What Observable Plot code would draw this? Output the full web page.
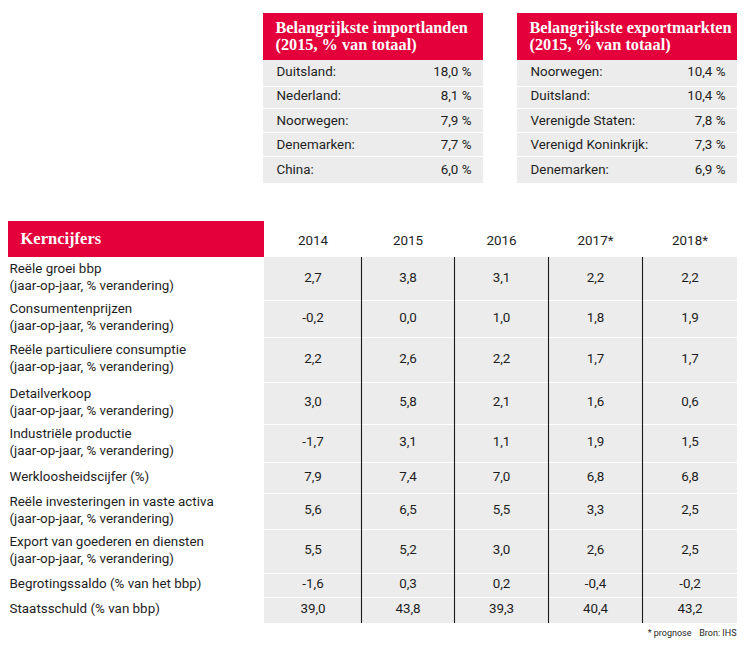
<!DOCTYPE html>
<html><head><meta charset="utf-8">
<script src="https://cdn.jsdelivr.net/npm/d3@7"></script>
<script src="https://cdn.jsdelivr.net/npm/@observablehq/plot@0.6"></script>
<style>
html,body{margin:0;padding:0;background:#fff;}
#chart svg{display:block;}
</style></head><body><div id="chart"></div>
<script>
// ---------- data ----------
const importTitle = ["Belangrijkste importlanden", "(2015, % van totaal)"];
const importCountries = ["Duitsland:", "Nederland:", "Noorwegen:", "Denemarken:", "China:"];
const importShares = [18.0, 8.1, 7.9, 7.7, 6.0];

const exportTitle = ["Belangrijkste exportmarkten", "(2015, % van totaal)"];
const exportCountries = ["Noorwegen:", "Duitsland:", "Verenigde Staten:", "Verenigd Koninkrijk:", "Denemarken:"];
const exportShares = [10.4, 10.4, 7.8, 7.3, 6.9];

const tableTitle = "Kerncijfers";
const years = ["2014", "2015", "2016", "2017*", "2018*"];
const indicatorNames = [
  "Reële groei bbp", "Consumentenprijzen", "Reële particuliere consumptie",
  "Detailverkoop", "Industriële productie", "Werkloosheidscijfer (%)",
  "Reële investeringen in vaste activa", "Export van goederen en diensten",
  "Begrotingssaldo (% van het bbp)", "Staatsschuld (% van bbp)"
];
const indicatorUnits = [
  "(jaar-op-jaar, % verandering)", "(jaar-op-jaar, % verandering)", "(jaar-op-jaar, % verandering)",
  "(jaar-op-jaar, % verandering)", "(jaar-op-jaar, % verandering)", "",
  "(jaar-op-jaar, % verandering)", "(jaar-op-jaar, % verandering)", "", ""
];
const values2014 = [2.7, -0.2, 2.2, 3.0, -1.7, 7.9, 5.6, 5.5, -1.6, 39.0];
const values2015 = [3.8, 0.0, 2.6, 5.8, 3.1, 7.4, 6.5, 5.2, 0.3, 43.8];
const values2016 = [3.1, 1.0, 2.2, 2.1, 1.1, 7.0, 5.5, 3.0, 0.2, 39.3];
const values2017 = [2.2, 1.8, 1.7, 1.6, 1.9, 6.8, 3.3, 2.6, -0.4, 40.4];
const values2018 = [2.2, 1.9, 1.7, 0.6, 1.5, 6.8, 2.5, 2.5, -0.2, 43.2];
const footnote = "* prognose";
const source = "Bron: IHS";

// ---------- layout & style ----------
const W = 745, H = 651;
const RED = "#e3003b", GREY = "#ececec", INK = "#1e1e1e";
const SANS = "Roboto, 'Noto Sans', sans-serif";
const SERIF = "'Liberation Serif', 'DejaVu Serif', serif";
const nl = v => v.toFixed(1).replace(".", ",");

const topHead = [13, 60];
const topRowEdges = [60, 86, 108, 132, 156, 183];
const topTables = [
  {x0: 263, x1: 483, title: importTitle, names: importCountries, vals: importShares},
  {x0: 517, x1: 737, title: exportTitle, names: exportCountries, vals: exportShares}
];
const mainHead = [221, 257];
const mainLabelX0 = 8, mainTitleX = 20, mainLabelX = 9;
const colEdges = [264, 361, 454, 548, 642, 737];
const rowEdges = [257, 300, 337, 382, 424, 462, 493, 529, 573, 597, 623];
const columns = [values2014, values2015, values2016, values2017, values2018];

// ---------- build mark data ----------
const reds = [], greys = [], whites = [], blacks = [];
const titleTexts = [], mainTitle = [], bodyStart = [], bodyEnd = [], bodyMid = [], small = [];

topTables.forEach(t => {
  reds.push({x1: t.x0, x2: t.x1, y1: topHead[0], y2: topHead[1]});
  greys.push({x1: t.x0, x2: t.x1, y1: topRowEdges[0], y2: topRowEdges[topRowEdges.length - 1]});
  titleTexts.push({x: t.x0 + 12, y: 35.5, text: t.title.join("\n")});
  for (let i = 1; i < topRowEdges.length - 1; i++) whites.push({y: topRowEdges[i], x1: t.x0, x2: t.x1});
  t.names.forEach((n, i) => {
    const yc = 71 + i * 24.5;
    bodyStart.push({x: t.x0 + 13, y: yc, text: n});
    bodyEnd.push({x: t.x1 - 12, y: yc, text: nl(t.vals[i]) + " %"});
  });
});

// main table
reds.push({x1: mainLabelX0, x2: colEdges[0], y1: mainHead[0], y2: mainHead[1]});
mainTitle.push({x: mainTitleX, y: (mainHead[0] + mainHead[1]) / 2 - 1, text: tableTitle});
greys.push({x1: colEdges[0], x2: colEdges[colEdges.length - 1], y1: rowEdges[0], y2: rowEdges[rowEdges.length - 1]});
years.forEach((yr, j) => bodyMid.push({x: (colEdges[j] + colEdges[j + 1]) / 2, y: (mainHead[0] + mainHead[1]) / 2 + 1, text: yr}));
for (let i = 1; i < rowEdges.length - 1; i++) whites.push({y: rowEdges[i], x1: colEdges[0], x2: colEdges[colEdges.length - 1]});
for (let j = 1; j < colEdges.length - 1; j++) blacks.push({x: colEdges[j], y1: rowEdges[0], y2: rowEdges[rowEdges.length - 1]});
indicatorNames.forEach((name, i) => {
  const yc = (rowEdges[i] + rowEdges[i + 1]) / 2 - 1.5;
  if (indicatorUnits[i]) {
    bodyStart.push({x: mainLabelX, y: yc - 8.5, text: name});
    bodyStart.push({x: mainLabelX, y: yc + 8.5, text: indicatorUnits[i]});
  } else {
    bodyStart.push({x: mainLabelX, y: yc, text: name});
  }
  columns.forEach((col, j) => bodyMid.push({x: (colEdges[j] + colEdges[j + 1]) / 2, y: yc, text: nl(col[i])}));
});
small.push({x: 691, y: 633, text: footnote});
small.push({x: 736, y: 633, text: source});

// ---------- plot ----------
const chart = Plot.plot({
  width: W, height: H, margin: 0,
  style: {background: "#fff", overflow: "visible"},
  x: {type: "linear", domain: [0, W], range: [0, W], axis: null},
  y: {type: "linear", domain: [0, H], range: [0, H], axis: null},
  marks: [
    Plot.rect(reds, {x1: "x1", x2: "x2", y1: "y1", y2: "y2", fill: RED}),
    Plot.rect(greys, {x1: "x1", x2: "x2", y1: "y1", y2: "y2", fill: GREY}),
    Plot.ruleY(whites, {y: "y", x1: "x1", x2: "x2", stroke: "#fff", strokeWidth: 1.2}),
    Plot.ruleX(blacks, {x: "x", y1: "y1", y2: "y2", stroke: "#1a1a1a", strokeWidth: 1.1}),
    Plot.text(titleTexts, {x: "x", y: "y", text: "text", textAnchor: "start", fill: "#fff",
      fontFamily: SERIF, fontWeight: "bold", fontSize: 16.3, lineHeight: 1.05}),
    Plot.text(mainTitle, {x: "x", y: "y", text: "text", textAnchor: "start", fill: "#fff",
      fontFamily: SERIF, fontWeight: "bold", fontSize: 16.5}),
    Plot.text(bodyStart, {x: "x", y: "y", text: "text", textAnchor: "start", fill: INK,
      fontFamily: SANS, fontSize: 13.4}),
    Plot.text(bodyEnd, {x: "x", y: "y", text: "text", textAnchor: "end", fill: INK,
      fontFamily: SANS, fontSize: 13.4}),
    Plot.text(bodyMid, {x: "x", y: "y", text: "text", textAnchor: "middle", fill: INK,
      fontFamily: SANS, fontSize: 13.4}),
    Plot.text(small, {x: "x", y: "y", text: "text", textAnchor: "end", fill: INK,
      fontFamily: SANS, fontSize: 9})
  ]
});
document.getElementById("chart").appendChild(chart);
</script>
</body></html>
